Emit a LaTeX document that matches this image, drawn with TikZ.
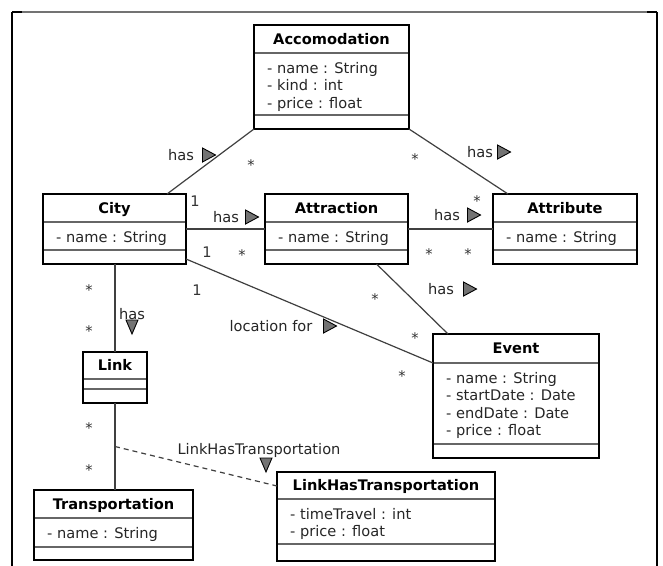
\documentclass[tikz,border=0pt]{standalone}
\usepackage{fontspec}
\setmainfont{DejaVu Sans}
\newcommand{\umlcls}[8]{%
  \draw[sepline] (#2,#6) -- (#4,#6);
  \draw[sepline] (#2,#7) -- (#4,#7);
  \node[clsbox, minimum width={#4-#2}, minimum height={#5-#3}] (#1) at ({(#2+#4)/2},{(#3+#5)/2}) {};
  \node[clstitle, anchor=base] (#1-t) at ({(#2+#4)/2},{(#3+#6)/2+5.3}) {#8};
}
\newcommand{\umlattrs}[4]{%
  \foreach \attrline [count=\k] in {#4} {\node[clsattr, anchor=base west] (#1-a\k) at ({#2+13},{#3+20+(\k-1)*17.6}) {\attrline};}
}
\newcommand{\trir}[2]{\filldraw[tri] ({#1-6.5},{#2-7}) -- ({#1+6.5},{#2}) -- ({#1-6.5},{#2+7}) -- cycle;}
\newcommand{\trid}[2]{\filldraw[tri] ({#1-6},{#2-7}) -- ({#1+6},{#2-7}) -- ({#1},{#2+7}) -- cycle;}
\begin{document}
\begin{tikzpicture}[x=1pt,y=-1pt,
  clsbox/.style={draw=black, line width=2.4pt, inner sep=0pt, outer sep=0pt},
  sepline/.style={draw=black!60, line width=1.3pt},
  clstitle/.style={font=\fontsize{14.6}{17.6}\selectfont\bfseries, inner sep=0pt},
  clsattr/.style={font=\fontsize{14.6}{17.6}\selectfont, text=black!85, inner sep=0pt},
  lbl/.style={font=\fontsize{14.6}{17.6}\selectfont, text=black!85, inner sep=0pt, anchor=base},
  mult/.style={font=\fontsize{14.6}{17.6}\selectfont, text=black!80, inner sep=0pt, anchor=base},
  conn/.style={draw=black!75, line width=1.2pt},
  tri/.style={fill=black!55, draw=black, line width=0.9pt, line join=miter},
  frameline/.style={draw=black, line width=2pt}]
\useasboundingbox (0,0) rectangle (663,565);
\fill[white] (0,0) rectangle (663,565);
% frame
\draw[draw=black!55, line width=1.2pt] (12,12) -- (657,12);
\draw[frameline] (12,12) -- (12,570);
\draw[frameline] (657,12) -- (657,570);
\draw[draw=black, line width=1.6pt] (12,12) -- (22,12);
\draw[draw=black, line width=1.6pt] (647,12) -- (657,12);
% classes
\umlcls{acc}{254}{25}{409}{129}{53}{115}{Accomodation}
\umlattrs{acc}{254}{53}{- name : String, - kind : int, - price : float}
\umlcls{city}{43}{194}{186}{264}{222}{250}{City}
\umlattrs{city}{43}{222}{- name : String}
\umlcls{attr}{265}{194}{408}{264}{222}{250}{Attraction}
\umlattrs{attr}{265}{222}{- name : String}
\umlcls{attb}{493}{194}{637}{264}{222}{250}{Attribute}
\umlattrs{attb}{493}{222}{- name : String}
\umlcls{event}{433}{334}{599}{458}{363}{444}{Event}
\umlattrs{event}{433}{363}{- name : String, - startDate : Date, - endDate : Date, - price : float}
\umlcls{link}{83}{352}{147}{403}{379}{389}{Link}
\umlcls{trans}{34}{490}{193}{560}{518}{547}{Transportation}
\umlattrs{trans}{34}{518}{- name : String}
\umlcls{lht}{277}{472}{495}{561}{499}{544}{LinkHasTransportation}
\umlattrs{lht}{277}{499}{- timeTravel : int, - price : float}
% connectors
\draw[conn] (acc.south west) -- ([xshift=-19pt]city.north east);
\draw[conn] (acc.south east) -- ([xshift=15pt]attb.north west);
\draw[conn] (city.east) -- (attr.west);
\draw[conn] (attr.east) -- (attb.west);
\draw[conn] ([xshift=40pt]attr.south) -- ([xshift=15pt]event.north west);
\draw[conn] ([yshift=5pt]city.south east) -- ([yshift=-29pt]event.north west);
\draw[conn] (link.north |- city.south) -- (link.north);
\draw[conn] (link.south) -- coordinate[pos=0.5] (lmid) (link.south |- trans.north);
\draw[conn, dash pattern=on 5pt off 4pt] (lmid) -- ([yshift=-14pt]lht.north west);
% association labels
\node[lbl] (h1) at (181,160) {has}; \trir{209}{155}
\node[lbl] (h2) at (480,157) {has}; \trir{504}{152}
\node[lbl] (h3) at (226,222) {has}; \trir{252}{217}
\node[lbl] (h4) at (447,220) {has}; \trir{474}{215}
\node[lbl] (h5) at (441,294) {has}; \trir{470}{289}
\node[lbl] (h6) at (271,331) {location for}; \trir{330}{326}
\node[lbl] (h7) at (132,319) {has}; \trid{132}{327}
\node[lbl] (h8) at (259,454) {LinkHasTransportation}; \trid{266}{465}
% multiplicities
\node[mult] (m1) at (251,170.5) {*};
\node[mult] (m2) at (195,206.3) {1};
\node[mult] (m3) at (415,164.5) {*};
\node[mult] (m4) at (477,206.5) {*};
\node[mult] (m5) at (207,257.3) {1};
\node[mult] (m6) at (242,260.5) {*};
\node[mult] (m7) at (429,259.5) {*};
\node[mult] (m8) at (468,259.5) {*};
\node[mult] (m9) at (197,295.3) {1};
\node[mult] (m10) at (375,304.5) {*};
\node[mult] (m11) at (415,343.5) {*};
\node[mult] (m12) at (402,381.5) {*};
\node[mult] (m13) at (89,295.5) {*};
\node[mult] (m14) at (89,336.5) {*};
\node[mult] (m15) at (89,433.5) {*};
\node[mult] (m16) at (89,475.5) {*};
\end{tikzpicture}
\end{document}
